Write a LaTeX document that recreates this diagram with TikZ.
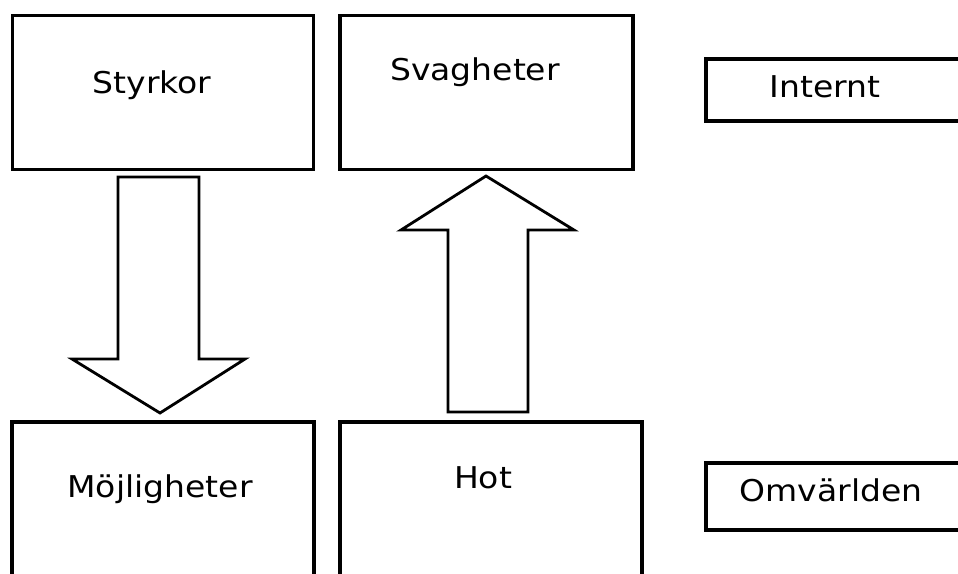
\documentclass[tikz,border=0pt]{standalone}
\usepackage{fontspec}
\setmainfont{DejaVu Sans}[FakeStretch=1.1]
\begin{document}
\begin{tikzpicture}[x=1pt,y=-1pt,
  box/.style={draw=black, line width=3.3pt, inner sep=0pt, fill=white},
  lbl/.style={anchor=base, inner sep=0pt, font=\fontsize{30}{32}\selectfont},
  blockarrow/.style={draw=black, line width=2.8pt, line join=miter, fill=white}]
\useasboundingbox (0,0) rectangle (958,573);
\fill[white] (0,0) rectangle (958,573);
\clip (0,0) rectangle (958,573);
% boxes
\node[box, minimum width=301pt, minimum height=154pt] (S) at (163,92.5) {};
\node[box, minimum width=293pt, minimum height=154pt] (W) at (486.5,92.5) {};
\node[box, minimum width=302pt, minimum height=180pt] (O) at (163,512) {};
\node[box, minimum width=302pt, minimum height=180pt] (T) at (491,512) {};
\node[box, minimum width=300pt, minimum height=62pt] (I) at (856,90) {};
\node[box, minimum width=300pt, minimum height=67pt] (E) at (856,496.5) {};
% labels
\node[lbl] (tS) at (152,93) {Styrkor};
\node[lbl] (tW) at (475,80) {Svagheter};
\node[lbl] (tI) at (825,97) {Internt};
\node[lbl] (tO) at (160,497) {Möjligheter};
\node[lbl] (tT) at (483,488) {Hot};
\node[lbl] (tE) at (831,501) {Omvärlden};
% block arrows
\coordinate (dtip) at (160,413);
\coordinate (utip) at (486,176);
\draw[blockarrow] (118,177) -- (199,177) -- (199,359) -- (245,359) -- (dtip) -- (72,359) -- (118,359) -- cycle;
\draw[blockarrow] (448,412) -- (528,412) -- (528,230) -- (574,230) -- (utip) -- (401,230) -- (448,230) -- cycle;
\end{tikzpicture}
\end{document}
